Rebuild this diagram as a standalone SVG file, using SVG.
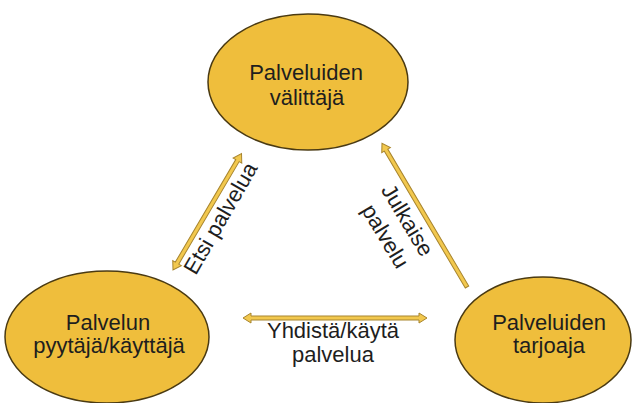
<svg xmlns="http://www.w3.org/2000/svg" width="640" height="403" viewBox="0 0 640 403">
<style>
.node{fill:#EFBE3C;stroke:#4A3A12;stroke-width:1.5}
.t{font-family:"Liberation Sans",Arial,sans-serif;font-size:22px;fill:#1E1E1E;text-anchor:middle}
.arr{fill:#F2C84E;stroke:#A8852E;stroke-width:1}
</style>
<rect width="640" height="403" fill="#ffffff"/>
<g id="connectors">
<path class="arr" transform="translate(173,270) rotate(-59.5)" d="M0,0 L8,-5 L8,-2 L127,-2 L127,-5 L135,0 L127,5 L127,2 L8,2 L8,5 Z"/>
<path class="arr" transform="translate(467,287) rotate(-120.6)" d="M0,-2 L159,-2 L159,-5 L167,0 L159,5 L159,2 L0,2 Z"/>
<path class="arr" transform="translate(243,318)" d="M0,0 L8,-5 L8,-2 L176,-2 L176,-5 L184,0 L176,5 L176,2 L8,2 L8,5 Z"/>
<text class="t" transform="translate(227,222) rotate(-60)">Etsi palvelua</text>
<text class="t" transform="translate(401,224) rotate(59)">Julkaise</text>
<text class="t" transform="translate(379,240) rotate(59)">palvelu</text>
<text class="t" x="333" y="338">Yhdistä/käytä</text>
<text class="t" x="333" y="362">palvelua</text>
</g>
<g id="node-valittaja">
<ellipse class="node" cx="308" cy="82" rx="100" ry="68"/>
<text class="t" x="306" y="80">Palveluiden</text>
<text class="t" x="307" y="105">välittäjä</text>
</g>
<g id="node-kayttaja">
<ellipse class="node" cx="107" cy="337" rx="102" ry="66"/>
<text class="t" x="108" y="330">Palvelun</text>
<text class="t" x="109" y="353">pyytäjä/käyttäjä</text>
</g>
<g id="node-tarjoaja">
<ellipse class="node" cx="543" cy="340" rx="88" ry="63"/>
<text class="t" x="549" y="330">Palveluiden</text>
<text class="t" x="549" y="353">tarjoaja</text>
</g>
</svg>
